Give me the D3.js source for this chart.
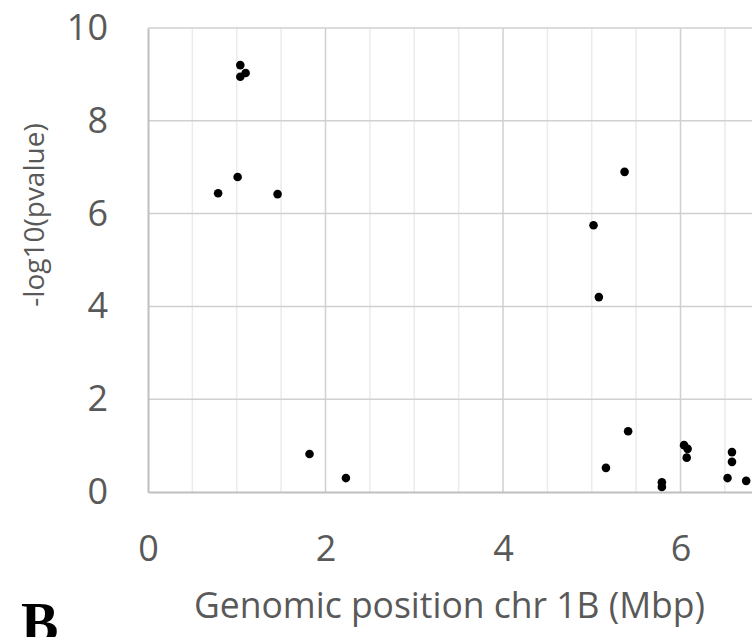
<!DOCTYPE html>
<html>
<head>
<meta charset="utf-8">
<script src="https://cdn.jsdelivr.net/npm/d3@7"></script>
<style>
  html, body { margin: 0; padding: 0; background: #fff; }
  svg { display: block; }
</style>
</head>
<body>
<svg id="chart" width="752" height="637"></svg>
<script>
// genomic position (Mbp) and -log10(pvalue)
const positions = [1.04, 1.10, 1.04, 1.01, 0.79, 1.46, 1.82, 2.23, 5.37, 5.02, 5.08, 5.41, 5.16, 5.79, 5.79, 6.04, 6.08, 6.07, 6.58, 6.58, 6.53, 6.74];
const pvalues = [9.20, 9.03, 8.95, 6.79, 6.44, 6.42, 0.82, 0.30, 6.90, 5.75, 4.20, 1.31, 0.52, 0.21, 0.11, 1.01, 0.93, 0.74, 0.86, 0.65, 0.30, 0.24];
const xTicks = [0, 2, 4, 6];
const yTicks = [0, 2, 4, 6, 8, 10];
const xMax = 8;

const svg = d3.select('#chart');
const plotLeft = 148;
const plotTop = 28;
const plotBottom = 492;
const pxPerMbp = 88.75;

let scaleX = d3.scaleLinear().domain([0, xMax]).range([plotLeft, plotLeft + xMax * pxPerMbp]);
let scaleY = d3.scaleLinear().domain([0, 10]).range([plotBottom, plotTop]);

const fontFamily = '"Open Sans", "Liberation Sans", sans-serif';
const textColor = '#595959';

const drawGrid = () => {
  let grid = svg.append('g').attr('class', 'grid');
  // minor verticals every 0.5 Mbp, major every 2
  let verticals = d3.range(0.5, xMax + 0.01, 0.5);
  grid.selectAll('.grid-x')
    .data(verticals)
    .enter()
    .append('line')
    .attr('class', 'grid-x')
    .attr('x1', d => scaleX(d))
    .attr('x2', d => scaleX(d))
    .attr('y1', plotTop)
    .attr('y2', plotBottom)
    .attr('stroke', d => d % 2 === 0 ? '#d0d0d0' : '#ebebeb')
    .attr('stroke-width', 1.5);
  grid.selectAll('.grid-y')
    .data(yTicks.filter(d => d > 0))
    .enter()
    .append('line')
    .attr('class', 'grid-y')
    .attr('x1', plotLeft)
    .attr('x2', scaleX(xMax))
    .attr('y1', d => scaleY(d))
    .attr('y2', d => scaleY(d))
    .attr('stroke', '#d0d0d0')
    .attr('stroke-width', 1.5);
};

const drawAxes = () => {
  let xAxis = d3.axisBottom(scaleX).tickValues(xTicks).tickSize(0).tickPadding(43);
  let xg = svg.append('g').attr('transform', `translate(0,${plotBottom})`).call(xAxis);
  xg.select('.domain').attr('stroke', '#bfbfbf').attr('stroke-width', 2);
  xg.selectAll('text')
    .attr('font-family', fontFamily)
    .attr('font-size', 36)
    .attr('fill', textColor);

  let yAxis = d3.axisLeft(scaleY).tickValues(yTicks).tickSize(0).tickPadding(40);
  let yg = svg.append('g').attr('transform', `translate(${plotLeft},0)`).call(yAxis);
  yg.select('.domain').attr('stroke', '#bfbfbf').attr('stroke-width', 2);
  yg.selectAll('text')
    .attr('font-family', fontFamily)
    .attr('font-size', 36)
    .attr('fill', textColor);

  svg.append('text')
    .attr('transform', 'translate(44,215) rotate(-90)')
    .attr('text-anchor', 'middle')
    .attr('font-family', fontFamily)
    .attr('font-size', 28)
    .attr('fill', textColor)
    .text('-log10(pvalue)');

  svg.append('text')
    .attr('x', 194)
    .attr('y', 618)
    .attr('textLength', 511)
    .attr('lengthAdjust', 'spacingAndGlyphs')
    .attr('font-family', fontFamily)
    .attr('font-size', 36)
    .attr('fill', textColor)
    .text('Genomic position chr 1B (Mbp)');

  svg.append('text')
    .attr('x', 21)
    .attr('y', 642)
    .attr('font-family', '"Liberation Serif", "DejaVu Serif", serif')
    .attr('font-weight', 'bold')
    .attr('font-size', 56)
    .attr('fill', '#000')
    .text('B');
};

const drawPoints = () => {
  let data = positions.map((d, i) => ({ x: d, y: pvalues[i] }));
  svg.append('g')
    .attr('class', 'points')
    .selectAll('circle')
    .data(data)
    .enter()
    .append('circle')
    .attr('cx', d => scaleX(d.x))
    .attr('cy', d => scaleY(d.y))
    .attr('r', 4.3)
    .attr('fill', '#000');
};

drawGrid();
drawAxes();
drawPoints();
</script>
</body>
</html>
